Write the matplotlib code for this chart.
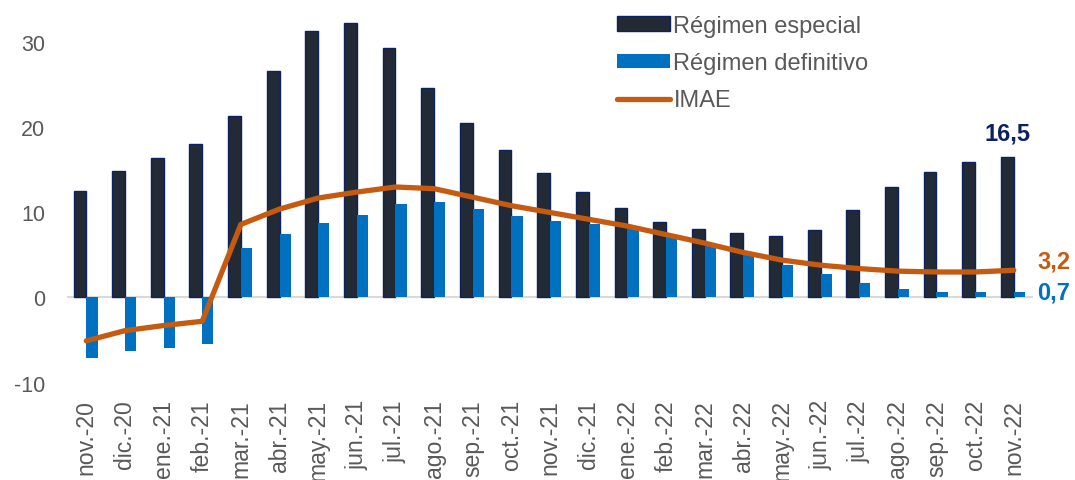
import matplotlib
matplotlib.use("Agg")
import matplotlib.pyplot as plt
import numpy as np
from matplotlib.patches import Patch
from matplotlib.lines import Line2D

categories = ["nov.-20", "dic.-20", "ene.-21", "feb.-21", "mar.-21", "abr.-21",
              "may.-21", "jun.-21", "jul.-21", "ago.-21", "sep.-21", "oct.-21",
              "nov.-21", "dic.-21", "ene.-22", "feb.-22", "mar.-22", "abr.-22",
              "may.-22", "jun.-22", "jul.-22", "ago.-22", "sep.-22", "oct.-22",
              "nov.-22"]
especial = [12.5, 14.9, 16.4, 18.1, 21.4, 26.7, 31.4, 32.3, 29.4, 24.7, 20.5, 17.3,
            14.6, 12.4, 10.5, 8.9, 8.1, 7.6, 7.2, 7.9, 10.3, 13.0, 14.8, 15.9, 16.5]
definitivo = [-7.1, -6.3, -5.9, -5.5, 5.8, 7.5, 8.8, 9.7, 11.0, 11.2, 10.4, 9.6,
              9.0, 8.6, 8.1, 7.2, 6.1, 5.0, 3.8, 2.8, 1.7, 1.0, 0.6, 0.6, 0.7]
imae = [-5.1, -3.9, -3.3, -2.8, 8.6, 10.4, 11.7, 12.4, 13.0, 12.8, 11.8, 10.8,
        10.0, 9.2, 8.4, 7.4, 6.4, 5.3, 4.4, 3.8, 3.4, 3.1, 3.0, 3.0, 3.2]
yticks = [-10, 0, 10, 20, 30]

plt.rcParams['font.family'] = ['Liberation Sans', 'DejaVu Sans']

C_DARK = "#222a35"
C_EDGE = "#0b2160"
C_BLUE = "#0070c0"
C_ORANGE = "#c55a11"
C_TEXT = "#595959"

fig = plt.figure(figsize=(10.75, 4.81), dpi=100)
ax = fig.add_axes([0.0623, 0.2027, 0.9610 - 0.0623, 0.998 - 0.2027])

x = np.arange(len(categories))
w1 = 0.33
w2 = 0.29
ax.bar(x - w1 / 2, especial, width=w1, color=C_DARK, edgecolor=C_EDGE, linewidth=1.0, zorder=2)
ax.bar(x + w2 / 2, definitivo, width=w2, color=C_BLUE, linewidth=0, zorder=2)
ax.axhline(0, color="#d9d9d9", linewidth=1.5, zorder=1)
ax.plot(x, imae, color=C_ORANGE, linewidth=3.8, solid_capstyle='round',
        solid_joinstyle='round', zorder=3)

ax.set_xlim(-0.5, len(categories) - 0.5)
ax.set_ylim(-10, 35)
ax.set_yticks(yticks)
ax.set_yticklabels([str(v) for v in yticks])
ax.set_xticks(x)
ax.set_xticklabels(categories, rotation=90)
ax.tick_params(axis='both', length=0, colors=C_TEXT)
ax.tick_params(axis='y', pad=15.5, labelsize=15.5)
ax.tick_params(axis='x', pad=12, labelsize=16.6)
for s in ax.spines.values():
    s.set_visible(False)

last = len(categories) - 1
ax.annotate(f"{especial[-1]:.1f}".replace('.', ','), (last - w1 / 2, especial[-1]),
            xytext=(0, 9), textcoords='offset points', ha='center', va='bottom',
            fontsize=17, fontweight='bold', color="#0b2160")
ax.annotate(f"{imae[-1]:.1f}".replace('.', ','), (last, imae[-1]),
            xytext=(17, 7), textcoords='offset points', ha='left', va='center',
            fontsize=17, fontweight='bold', color=C_ORANGE, annotation_clip=False)
ax.annotate(f"{definitivo[-1]:.1f}".replace('.', ','), (last, definitivo[-1]),
            xytext=(17, 0), textcoords='offset points', ha='left', va='center',
            fontsize=17, fontweight='bold', color=C_BLUE, annotation_clip=False)

handles = [Patch(facecolor=C_DARK, edgecolor=C_EDGE, linewidth=1.0),
           Patch(facecolor=C_BLUE, edgecolor='none'),
           Line2D([0], [0], color=C_ORANGE, linewidth=3.8, solid_capstyle='round')]
labels = ["Régimen especial", "Régimen definitivo", "IMAE"]
leg = fig.legend(handles, labels, loc='upper left', bbox_to_anchor=(612 / 1075, 0.977),
                 frameon=False, fontsize=17, handlelength=2.25, handleheight=0.55,
                 handletextpad=0.15, labelspacing=0.65, borderpad=0.2, borderaxespad=0)
for t in leg.get_texts():
    t.set_color(C_TEXT)

fig.savefig("out.png", dpi=100)
